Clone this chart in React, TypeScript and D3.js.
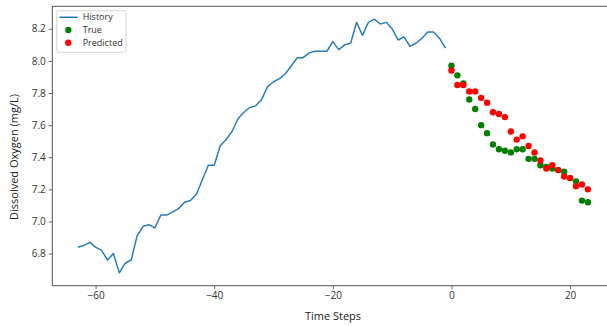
import React, { useEffect, useRef } from "react";
import * as d3 from "d3";

// History series, one value per time step ending at t = -1
const historyStart = -63;
const historyValues = [
  6.84, 6.85, 6.87, 6.84, 6.82, 6.76, 6.8, 6.68, 6.74, 6.76, 6.91, 6.97, 6.98,
  6.96, 7.04, 7.04, 7.06, 7.08, 7.12, 7.13, 7.17, 7.26, 7.35, 7.35, 7.47, 7.51,
  7.56, 7.64, 7.68, 7.71, 7.72, 7.76, 7.84, 7.87, 7.89, 7.92, 7.97, 8.02, 8.02,
  8.05, 8.06, 8.06, 8.06, 8.12, 8.07, 8.1, 8.11, 8.24, 8.16, 8.24, 8.26, 8.23,
  8.24, 8.2, 8.13, 8.15, 8.09, 8.11, 8.14, 8.18, 8.18, 8.14, 8.08,
];

// Forecast horizon starting at t = 0
const futureStart = 0;
const trueValues = [
  7.97, 7.91, 7.86, 7.76, 7.7, 7.6, 7.55, 7.48, 7.45, 7.44, 7.43, 7.45, 7.45,
  7.39, 7.39, 7.35, 7.34, 7.33, 7.32, 7.31, 7.27, 7.25, 7.13, 7.12,
];
const predictedValues = [
  7.94, 7.85, 7.85, 7.81, 7.81, 7.77, 7.74, 7.68, 7.67, 7.65, 7.56, 7.51, 7.53,
  7.47, 7.43, 7.38, 7.33, 7.35, 7.32, 7.28, 7.27, 7.22, 7.23, 7.2,
];

const xTicks = [-60, -40, -20, 0, 20];
const yTicks = [6.8, 7.0, 7.2, 7.4, 7.6, 7.8, 8.0, 8.2];

const legendItems = [
  { label: "History", kind: "line", color: "#1f77b4" },
  { label: "True", kind: "dot", color: "green" },
  { label: "Predicted", kind: "dot", color: "red" },
];

const WIDTH = 607;
const HEIGHT = 326;
const FONT = "'Open Sans', 'DejaVu Sans', sans-serif";

export default function App() {
  const svgRef = useRef<SVGSVGElement>(null);

  useEffect(() => {
    if (!svgRef.current) return;
    const svg = d3.select(svgRef.current);
    svg.selectAll("*").remove();

    const margin = { top: 6.3, right: -6.4, bottom: 40.3, left: 52.3 };
    const innerW = WIDTH - margin.left - margin.right;
    const innerH = HEIGHT - margin.top - margin.bottom;

    const history = historyValues.map((v, i) => ({ t: historyStart + i, v }));
    const truth = trueValues.map((v, i) => ({ t: futureStart + i, v }));
    const pred = predictedValues.map((v, i) => ({ t: futureStart + i, v }));

    const x = d3.scaleLinear().domain([-67.3, 27.3]).range([0, innerW]);
    const y = d3.scaleLinear().domain([6.6, 8.34]).range([innerH, 0]);

    const g = svg
      .append("g")
      .attr("transform", `translate(${margin.left},${margin.top})`);

    // History line
    const line = d3
      .line<{ t: number; v: number }>()
      .x((d) => x(d.t))
      .y((d) => y(d.v));

    g.append("path")
      .datum(history)
      .attr("fill", "none")
      .attr("stroke", "#2a7db8")
      .attr("stroke-width", 1.5)
      .attr("stroke-linejoin", "round")
      .attr("d", line);

    // True then predicted, red drawn on top
    g.selectAll(".true")
      .data(truth)
      .enter()
      .append("circle")
      .attr("cx", (d) => x(d.t))
      .attr("cy", (d) => y(d.v))
      .attr("r", 3.2)
      .attr("fill", "green");

    g.selectAll(".pred")
      .data(pred)
      .enter()
      .append("circle")
      .attr("cx", (d) => x(d.t))
      .attr("cy", (d) => y(d.v))
      .attr("r", 3.2)
      .attr("fill", "red");

    // Axes
    const fmtX = (d: d3.NumberValue) => String(d).replace("-", "\u2212");
    const xAxis = g
      .append("g")
      .attr("transform", `translate(0,${innerH})`)
      .call(
        d3
          .axisBottom(x)
          .tickValues(xTicks)
          .tickSize(3.5)
          .tickSizeOuter(0)
          .tickPadding(2.5)
          .tickFormat(fmtX)
      );

    const yAxis = g.append("g").call(
      d3
        .axisLeft(y)
        .tickValues(yTicks)
        .tickSize(3.5)
        .tickSizeOuter(0)
        .tickPadding(3)
        .tickFormat(d3.format(".1f"))
    );

    [xAxis, yAxis].forEach((ax) => {
      ax.select(".domain").remove();
      ax.selectAll(".tick line").attr("stroke", "#444").attr("stroke-width", 0.8);
      ax.selectAll(".tick text")
        .attr("fill", "#333")
        .attr("font-size", "10px")
        .attr("font-family", FONT);
    });

    // Spines
    g.append("rect")
      .attr("x", 0)
      .attr("y", 0)
      .attr("width", innerW)
      .attr("height", innerH)
      .attr("fill", "none")
      .attr("stroke", "#555")
      .attr("stroke-width", 1);

    // Axis labels
    svg
      .append("text")
      .attr("x", 333)
      .attr("y", 320)
      .attr("text-anchor", "middle")
      .attr("font-size", "11px")
      .attr("font-family", FONT)
      .attr("fill", "#222")
      .text("Time Steps");

    svg
      .append("text")
      .attr("transform", `translate(18,157) rotate(-90)`)
      .attr("text-anchor", "middle")
      .attr("font-size", "11px")
      .attr("font-family", FONT)
      .attr("fill", "#222")
      .text("Dissolved Oxygen (mg/L)");

    // Legend
    const legend = svg.append("g").attr("transform", "translate(56.7,10.7)");
    legend
      .append("rect")
      .attr("width", 69.3)
      .attr("height", 41.6)
      .attr("rx", 2)
      .attr("fill", "white")
      .attr("fill-opacity", 0.8)
      .attr("stroke", "#ccc")
      .attr("stroke-width", 0.8);

    legendItems.forEach((item, i) => {
      const cy = 6.6 + i * 12.7;
      if (item.kind === "line") {
        legend
          .append("line")
          .attr("x1", 2.6)
          .attr("x2", 21)
          .attr("y1", cy)
          .attr("y2", cy)
          .attr("stroke", item.color)
          .attr("stroke-width", 1.5);
      } else {
        legend
          .append("circle")
          .attr("cx", 11.6)
          .attr("cy", cy)
          .attr("r", 3.2)
          .attr("fill", item.color);
      }
      legend
        .append("text")
        .attr("x", 26)
        .attr("y", cy)
        .attr("dy", "0.35em")
        .attr("font-size", "9px")
        .attr("font-family", FONT)
        .attr("fill", "#333")
        .text(item.label);
    });
  }, []);

  return (
    <svg
      ref={svgRef}
      width={WIDTH}
      height={HEIGHT}
      style={{ position: "absolute", left: 0, top: 0, background: "white" }}
    />
  );
}
